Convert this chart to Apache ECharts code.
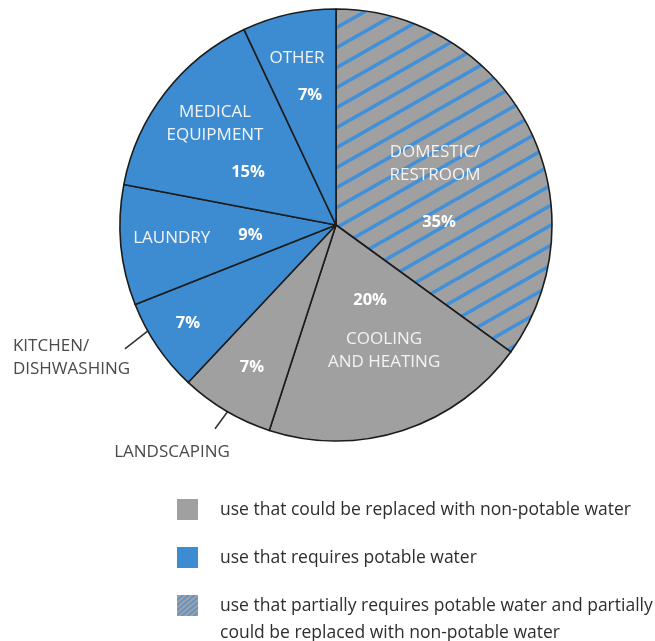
<!DOCTYPE html>
<html>
<head>
<meta charset="utf-8">
<script src="https://cdn.jsdelivr.net/npm/echarts@6/dist/echarts.min.js"></script>
<style>
  html, body { margin: 0; padding: 0; background: #ffffff; }
  #chart { width: 655px; height: 641px; }
</style>
</head>
<body>
<div id="chart"></div>
<script>
// Hospital water use by end use (share of total, %)
const categories = ['DOMESTIC/\nRESTROOM', 'COOLING\nAND HEATING', 'LANDSCAPING', 'KITCHEN/\nDISHWASHING', 'LAUNDRY', 'MEDICAL\nEQUIPMENT', 'OTHER'];
const shares = [35, 20, 7, 7, 9, 15, 7];
// water quality needed by each use: 'partial' | 'nonpotable' | 'potable'
const useTypes = ['partial', 'nonpotable', 'nonpotable', 'potable', 'potable', 'potable', 'potable'];
const legendKeys = ['nonpotable', 'potable', 'partial'];
const legendLabels = [
  'use that could be replaced with non-potable water',
  'use that requires potable water',
  'use that partially requires potable water and partially\ncould be replaced with non-potable water'
];
// names written beside the pie instead of inside their slice
const outsideNames = ['LANDSCAPING', 'KITCHEN/\nDISHWASHING'];

// ---- styling ----
const GRAY = '#a0a0a0';
const BLUE = '#3d8cd2';
const STRIPE = '#4290d8';
const FONT = '"Open Sans", "DejaVu Sans", sans-serif';
const CX = 336, CY = 225, R = 216;

function stripeTile(w, h, lw, bg, fg) {
  const c = document.createElement('canvas');
  c.width = w; c.height = h;
  const g = c.getContext('2d');
  g.fillStyle = bg; g.fillRect(0, 0, w, h);
  g.strokeStyle = fg; g.lineWidth = lw;
  for (let i = -1; i <= 1; i++) {
    for (let j = -1; j <= 1; j++) {
      g.beginPath();
      g.moveTo(i * w, h + j * h);
      g.lineTo(w + i * w, j * h);
      g.stroke();
    }
  }
  return c;
}
const hatchFill = { image: stripeTile(35, 20, 3.6, GRAY, STRIPE), repeat: 'repeat' };
const hatchSmall = { image: stripeTile(6, 5, 1.6, '#9aa3ad', '#5f8fc0'), repeat: 'repeat' };
const fills = { nonpotable: GRAY, potable: BLUE, partial: hatchFill };
const legendFills = { nonpotable: GRAY, potable: BLUE, partial: hatchSmall };

// label placement inside each slice: radial fraction, angle tweak (deg),
// arrangement of name/percent, spacing between them and sideways shift of the percent
const labelPlace = [
  { rf: 0.491, da: 6.0,  kind: 'namePct', gap: 24, shift: 4 },
  { rf: 0.541, da: -6.3, kind: 'pctName', gap: 16, shift: -14 },
  { rf: 0.764, da: 0,    kind: 'pct' },
  { rf: 0.822, da: 0.7,  kind: 'pct' },
  { rf: 0.642, da: 0,    kind: 'inline', gap: 28 },
  { rf: 0.678, da: -3.5, kind: 'namePct', gap: 14, shift: 33 },
  { rf: 0.711, da: -2.1, kind: 'namePct', gap: 14, shift: 13 }
];
// leader lines for names outside the pie: inner/outer radius fraction and angle tweak, text offset
const outsidePlace = {
  2: { r0: 0.933, a0: -0.9, r1: 1.097, a1: 0.1, dx: -43, dy: 23, align: 'center' },
  3: { r0: 0.977, a0: 5.0,  r1: 1.133, a1: 3.8, dx: -112, dy: 9, align: 'left' }
};

const total = shares.reduce((a, b) => a + b, 0);
let acc = 0;
const midDeg = shares.map(v => { const m = (acc + v / 2) / total * 360; acc += v; return m; });
function polar(rf, deg) {
  const a = deg * Math.PI / 180;
  return [CX + rf * R * Math.sin(a), CY - rf * R * Math.cos(a)];
}

const rich = {
  n: { fontFamily: FONT, fontSize: 17, lineHeight: 23, color: '#f3f3f3' }
};
function labelText(i) {
  const p = labelPlace[i];
  const pct = shares[i] + '%';
  const names = categories[i].split('\n').map(s => '{n|' + s + '}');
  const key = 'p' + i;
  const sp = 's' + i;
  const st = { fontFamily: FONT, fontSize: 16.5, fontWeight: 'bold', lineHeight: 23, color: '#ffffff' };
  if (p.shift) st.padding = [0, p.shift < 0 ? -2 * p.shift : 0, 0, p.shift > 0 ? 2 * p.shift : 0];
  if (p.kind === 'inline') st.padding = [0, 0, 6, p.gap];
  rich[key] = st;
  if (p.gap) rich[sp] = { fontSize: 4, lineHeight: p.gap };
  const pctTok = '{' + key + '|' + pct + '}';
  const gapTok = '{' + sp + '| }';
  if (p.kind === 'namePct') return names.join('\n') + '\n' + gapTok + '\n' + pctTok;
  if (p.kind === 'pctName') return pctTok + '\n' + gapTok + '\n' + names.join('\n');
  if (p.kind === 'inline') return names.join('') + pctTok;
  return pctTok;
}

const mainData = categories.map((c, i) => ({
  name: c,
  value: shares[i],
  itemStyle: { color: fills[useTypes[i]] },
  label: { formatter: labelText(i) }
}));
const nameData = categories.map((c, i) => {
  const out = outsideNames.indexOf(c) >= 0;
  return {
    name: c,
    value: shares[i],
    label: { show: out },
    labelLine: { show: out }
  };
});

const graphic = [];
const rowY = [499, 547, 595];
legendKeys.forEach((k, i) => {
  graphic.push({
    type: 'rect', x: 177, y: rowY[i], shape: { width: 21, height: 21 },
    style: { fill: legendFills[k] }, silent: true
  });
  graphic.push({
    type: 'text', x: 220, y: rowY[i] - 2, silent: true,
    style: {
      text: legendLabels[i], font: '17.5px ' + FONT, fill: '#2e2e2e',
      lineHeight: 27, verticalAlign: 'top', align: 'left'
    }
  });
});

const chart = echarts.init(document.getElementById('chart'), null, { renderer: 'canvas' });
chart.setOption({
  backgroundColor: '#ffffff',
  animation: false,
  graphic: graphic,
  series: [
    {
      type: 'pie',
      center: [CX, CY],
      radius: R,
      startAngle: 90,
      clockwise: true,
      avoidLabelOverlap: false,
      silent: true,
      emphasis: { disabled: true },
      itemStyle: { borderColor: '#1c1c1c', borderWidth: 1.6 },
      label: { show: true, position: 'inside', rich: rich },
      labelLine: { show: false },
      labelLayout: function (params) {
        const i = params.dataIndex;
        const p = labelPlace[i];
        const xy = polar(p.rf, midDeg[i] + p.da);
        return { x: xy[0], y: xy[1], align: 'center', verticalAlign: 'middle' };
      },
      data: mainData
    },
    {
      type: 'pie',
      center: [CX, CY],
      radius: R,
      startAngle: 90,
      clockwise: true,
      avoidLabelOverlap: false,
      silent: true,
      emphasis: { disabled: true },
      itemStyle: { color: 'rgba(0,0,0,0)', borderWidth: 0 },
      label: {
        position: 'outside',
        fontFamily: FONT, fontSize: 17, lineHeight: 23, color: '#4a4a4a'
      },
      labelLine: { length: 30, length2: 0, lineStyle: { color: '#333333', width: 1.6 } },
      labelLayout: function (params) {
        const o = outsidePlace[params.dataIndex];
        if (!o) return {};
        const m = midDeg[params.dataIndex];
        const a = polar(o.r0, m + o.a0);
        const b = polar(o.r1, m + o.a1);
        return {
          x: b[0] + o.dx, y: b[1] + o.dy, align: o.align, verticalAlign: 'middle',
          labelLinePoints: [a, b, b]
        };
      },
      data: nameData
    }
  ]
});
</script>
</body>
</html>
